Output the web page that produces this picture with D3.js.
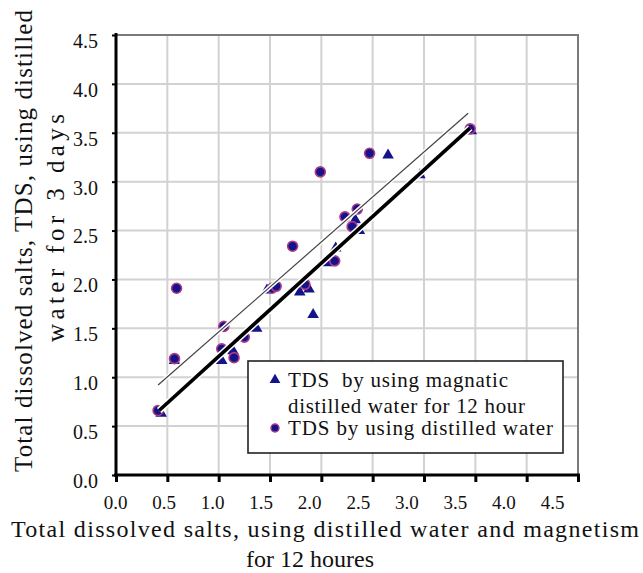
<!DOCTYPE html>
<html>
<head>
<meta charset="utf-8">
<script src="https://cdn.jsdelivr.net/npm/d3@7"></script>
<style>
  body { margin: 0; background: #fff; }
</style>
</head>
<body>
<div id="chart"></div>
<script>
"use strict";

// TDS by using magnatic distilled water for 12 hour (triangles)
var magX = [0.44, 0.57, 1.03, 1.14, 1.37, 1.47, 1.79, 1.88, 1.92, 2.06, 2.14, 2.33, 2.37, 2.65, 2.96, 3.46];
var magY = [0.63, 1.17, 1.17, 1.27, 1.50, 1.89, 1.87, 1.90, 1.64, 2.17, 2.32, 2.61, 2.50, 3.27, 3.07, 3.52];

// TDS by using distilled water (circles)
var distX = [0.41, 0.59, 0.57, 1.05, 1.03, 1.25, 1.15, 1.52, 1.56, 1.72, 1.84, 2.13, 1.99, 2.23, 2.35, 2.30, 2.47, 3.45];
var distY = [0.66, 1.91, 1.19, 1.52, 1.29, 1.41, 1.20, 1.91, 1.93, 2.34, 1.95, 2.19, 3.10, 2.64, 2.72, 2.54, 3.29, 3.54];

// trend lines, end points
var magTrend = [[0.42, 0.66], [3.45, 3.55]];
var distTrend = [[0.41, 0.92], [3.43, 3.70]];

var tickValues = [0, 0.5, 1, 1.5, 2, 2.5, 3, 3.5, 4, 4.5];
var gridValues = [0.5, 1, 1.5, 2, 2.5, 3, 3.5, 4];

var legendLabels = ["TDS  by using magnatic", "distilled water for 12 hour", "TDS by using distilled water"];
var xTitle = ["Total dissolved salts, using distilled water and magnetism", "for 12 houres"];
var yTitle = ["Total dissolved salts, TDS, using distilled", "water for 3 days"];

var width = 643, height = 573;
var serif = "'Liberation Serif', 'Times New Roman', serif";
var markColor = "#14148a", ringColor = "#b03a86";

var svg = d3.select("#chart").append("svg")
    .attr("width", width)
    .attr("height", height);

var x = d3.scaleLinear().domain([0, 4.5]).range([116, 578]);
var y = d3.scaleLinear().domain([0, 4.5]).range([475, 35]);
// the printed x labels drift left of their ticks in the original
var xLab = d3.scaleLinear().domain([0, 4.5]).range([115, 552]);

var addText = function(sel, size) {
    return sel.append("text")
        .attr("font-family", serif)
        .style("font-family", serif)
        .style("font-size", size + "px")
        .attr("fill", "#111");
};

// grid
var grid = svg.append("g");
grid.selectAll("line.v").data(gridValues).enter().append("line")
    .attr("x1", function(d) { return x(d); }).attr("x2", function(d) { return x(d); })
    .attr("y1", y(0)).attr("y2", y(4.5))
    .attr("stroke", "#d2d2d2").attr("stroke-width", 2);
grid.selectAll("line.h").data(gridValues).enter().append("line")
    .attr("y1", function(d) { return y(d); }).attr("y2", function(d) { return y(d); })
    .attr("x1", x(0)).attr("x2", x(4.5))
    .attr("stroke", "#d2d2d2").attr("stroke-width", 2);

// top and right frame
svg.append("path")
    .attr("d", "M" + x(0) + "," + y(4.5) + "H" + x(4.5) + "V" + y(0))
    .attr("fill", "none").attr("stroke", "#7a7a7a").attr("stroke-width", 2);

// points
var tri = d3.symbol().type(d3.symbolTriangle).size(58);
svg.append("g").selectAll("path").data(d3.range(magX.length)).enter().append("path")
    .attr("d", tri)
    .attr("transform", function(i) { return "translate(" + x(magX[i]) + "," + y(magY[i]) + ")"; })
    .attr("fill", markColor);

svg.append("g").selectAll("circle").data(d3.range(distX.length)).enter().append("circle")
    .attr("cx", function(i) { return x(distX[i]); })
    .attr("cy", function(i) { return y(distY[i]); })
    .attr("r", 5)
    .attr("fill", markColor)
    .attr("stroke", ringColor).attr("stroke-width", 1.6);

// trend lines with a white halo
var line = d3.line().x(function(d) { return x(d[0]); }).y(function(d) { return y(d[1]); });
[[distTrend, 1.2, "#444"], [magTrend, 3.6, "#000"]].forEach(function(t) {
    svg.append("path").attr("d", line(t[0]))
        .attr("stroke", "#fff").attr("stroke-width", t[1] + 3).attr("fill", "none");
    svg.append("path").attr("d", line(t[0]))
        .attr("stroke", t[2]).attr("stroke-width", t[1]).attr("fill", "none");
});

// legend
var leg = svg.append("g");
leg.append("rect")
    .attr("x", 248).attr("y", 361).attr("width", 315).attr("height", 92)
    .attr("fill", "#fff").attr("stroke", "#222").attr("stroke-width", 1.6);
leg.append("path").attr("d", d3.symbol().type(d3.symbolTriangle).size(50))
    .attr("transform", "translate(275,380)").attr("fill", markColor);
leg.append("circle").attr("cx", 275).attr("cy", 428).attr("r", 4)
    .attr("fill", markColor).attr("stroke", ringColor).attr("stroke-width", 1.4);
var legY = [387, 413, 435], legW = [220, 237, 265];
legendLabels.forEach(function(d, i) {
    addText(leg, 21)
        .attr("x", 288).attr("y", legY[i])
        .attr("textLength", legW[i]).attr("lengthAdjust", "spacing")
        .style("white-space", "pre")
        .text(d);
});

// axes
var xAxis = svg.append("g").attr("transform", "translate(0," + y(0) + ")")
    .call(d3.axisBottom(x).tickValues(tickValues).tickSize(7).tickFormat(""));
xAxis.select(".domain").attr("stroke", "#000").attr("stroke-width", 3)
    .attr("d", "M" + (x(0) - 2) + ",0H" + (x(4.5) + 2));
xAxis.selectAll(".tick line").attr("stroke", "#000").attr("stroke-width", 3);

var xLabels = svg.append("g").attr("transform", "translate(0," + (y(0) + 34) + ")")
    .call(d3.axisBottom(xLab).tickValues(tickValues).tickSize(0).tickFormat(d3.format(".1f")));
xLabels.select(".domain").remove();
xLabels.selectAll("text").attr("y", 0).attr("dy", 0)
    .attr("font-family", serif).style("font-family", serif)
    .style("font-size", "19px").attr("fill", "#111");

var yAxis = svg.append("g").attr("transform", "translate(" + x(0) + ",0)")
    .call(d3.axisLeft(y).tickValues(tickValues).tickSize(4).tickPadding(14).tickFormat(d3.format(".1f")));
yAxis.select(".domain").attr("stroke", "#000").attr("stroke-width", 3)
    .attr("d", "M0," + (y(4.5) - 2) + "V" + (y(0) + 2));
yAxis.selectAll(".tick line").attr("stroke", "#000").attr("stroke-width", 2);
yAxis.selectAll("text").attr("dy", "0.62em")
    .attr("font-family", serif).style("font-family", serif)
    .style("font-size", "20px").attr("fill", "#111");

// axis titles
addText(svg, 24).attr("x", 325).attr("y", 537)
    .attr("text-anchor", "middle").attr("textLength", 628).attr("lengthAdjust", "spacing")
    .text(xTitle[0]);
addText(svg, 24).attr("x", 310).attr("y", 567)
    .attr("text-anchor", "middle")
    .text(xTitle[1]);

addText(svg, 25).attr("transform", "translate(32,241) rotate(-90)")
    .attr("text-anchor", "middle").attr("textLength", 462).attr("lengthAdjust", "spacing")
    .text(yTitle[0]);
addText(svg, 25).attr("transform", "translate(64,228) rotate(-90)")
    .attr("text-anchor", "middle").attr("textLength", 228).attr("lengthAdjust", "spacing")
    .text(yTitle[1]);
</script>
</body>
</html>
